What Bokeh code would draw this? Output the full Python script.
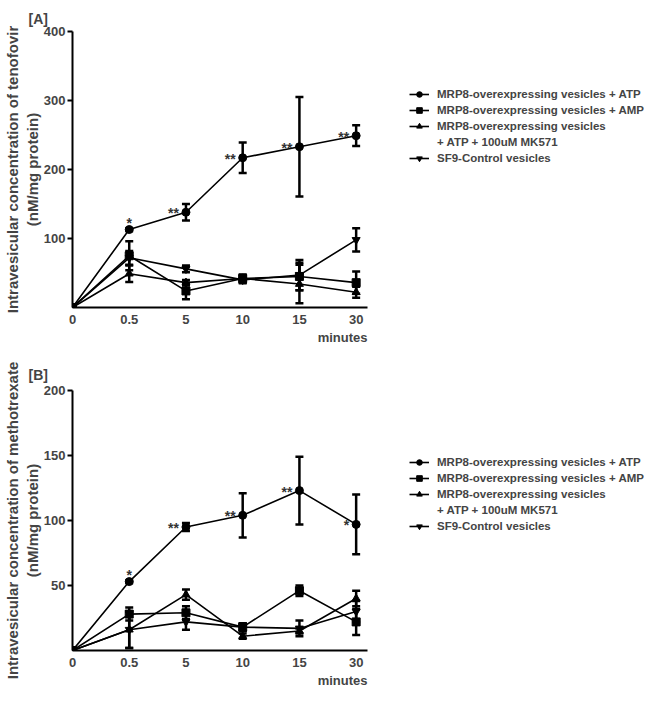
import numpy as np
from bokeh.plotting import figure
from bokeh.layouts import column, row
from bokeh.models import (ColumnDataSource, Whisker, TeeHead, LinearAxis, FixedTicker,
                          Legend, LegendItem, Title, Range1d)
from bokeh.embed import file_html
from bokeh.resources import INLINE

# ---------------- data ----------------
times = ["0", "0.5", "5", "10", "15", "30"]
series_names = ["MRP8-overexpressing vesicles + ATP",
                "MRP8-overexpressing vesicles + AMP",
                "MRP8-overexpressing vesicles",
                "SF9-Control vesicles"]
mk571_label_line2 = "+ ATP + 100uM MK571"
markers = ["circle", "square", "triangle", "inverted_triangle"]

# Panel A: tenofovir
tdf_atp = [0, 113, 138, 217, 233, 249]
tdf_atp_err = [0, 2, 12, 22, 72, 15]
tdf_amp = [0, 75, 24, 42, 45, 36]
tdf_amp_err = [0, 21, 12, 6, 20, 16]
tdf_mk = [0, 49, 36, 42, 34, 22]
tdf_mk_err = [0, 12, 4, 5, 28, 8]
tdf_sf9 = [0, 72, 56, 40, 47, 98]
tdf_sf9_err = [0, 10, 5, 5, 22, 17]
tdf_stars = ["", "*", "**", "**", "**", "**"]
tdf_yticks = [100, 200, 300, 400]

# Panel B: methotrexate
mtx_atp = [0, 53, 95, 104, 123, 97]
mtx_atp_err = [0, 1, 3, 17, 26, 23]
mtx_amp = [0, 28, 29, 18, 46, 22]
mtx_amp_err = [0, 5, 5, 3, 4, 10]
mtx_mk = [0, 16, 43, 11, 15, 40]
mtx_mk_err = [0, 14, 4, 2, 2, 6]
mtx_sf9 = [0, 16, 22, 18, 17, 30]
mtx_sf9_err = [0, 14, 6, 3, 6, 8]
mtx_stars = ["", "*", "**", "**", "**", "*"]
mtx_yticks = [50, 100, 150, 200]

FONT = "Liberation Sans"
PLOT_W = 372
LEG_W = 644 - PLOT_W


def build(tag, ylabel1, ylabel2, yticks, series, errs, stars, height, top, bottom,
          tag_standoff, legend_y):
    x = np.arange(len(times))
    p = figure(width=PLOT_W, height=height, output_backend="svg", toolbar_location=None,
               x_range=Range1d(0, 5.2), y_range=Range1d(0, max(yticks)),
               x_axis_type=None, y_axis_type=None,
               min_border_left=55, min_border_right=5,
               min_border_top=top, min_border_bottom=bottom)
    p.outline_line_color = None

    xaxis = LinearAxis(ticker=FixedTicker(ticks=list(x)),
                       major_label_overrides={int(i): t for i, t in zip(x, times)},
                       axis_line_width=2, major_tick_out=0, major_tick_in=0,
                       minor_tick_out=0, minor_tick_in=0, major_label_standoff=7,
                       major_label_text_font=FONT, major_label_text_font_style="bold",
                       major_label_text_font_size="13px")
    p.add_layout(xaxis, "below")
    yaxis = LinearAxis(ticker=FixedTicker(ticks=yticks),
                       axis_line_width=2, major_tick_out=5, major_tick_in=0,
                       major_tick_line_width=2, minor_tick_out=0, minor_tick_in=0,
                       major_label_standoff=2,
                       major_label_text_font=FONT, major_label_text_font_style="bold",
                       major_label_text_font_size="13px",
                       axis_label=ylabel2, axis_label_standoff=0,
                       axis_label_text_font=FONT, axis_label_text_font_style="bold",
                       axis_label_text_font_size="15px")
    p.add_layout(yaxis, "left")
    lab_axis = LinearAxis(ticker=FixedTicker(ticks=[]), axis_line_color=None,
                          major_tick_out=0, major_tick_in=0, minor_tick_out=0, minor_tick_in=0,
                          major_label_standoff=0,
                          axis_label=ylabel1, axis_label_standoff=0,
                          axis_label_text_font=FONT, axis_label_text_font_style="bold",
                          axis_label_text_font_size="15px")
    p.add_layout(lab_axis, "left")

    p.add_layout(Title(text=tag, align="left", offset=-44, standoff=tag_standoff,
                       text_font=FONT, text_font_style="bold", text_font_size="14px"),
                 "above")
    p.add_layout(Title(text="minutes", align="right", standoff=2, text_font=FONT,
                       text_font_style="bold", text_font_size="13px"), "below")

    # legend lives in its own small figure to the right; its glyphs use the same
    # data but that figure's ranges keep them out of view
    lf = figure(width=LEG_W, height=height, output_backend="svg", toolbar_location=None,
                x_range=Range1d(0, 1), y_range=Range1d(-20, -10),
                x_axis_type=None, y_axis_type=None, min_border=0)
    lf.outline_line_color = None

    items = []
    for k, (name, mk, vals, err) in enumerate(zip(series_names, markers, series, errs)):
        v = np.array(vals, dtype=float)
        e = np.array(err, dtype=float)
        src = ColumnDataSource(dict(x=x, y=v, upper=v + e, lower=v - e))
        p.add_layout(Whisker(source=src, base="x", upper="upper", lower="lower",
                             line_width=2.5, line_color="black",
                             upper_head=TeeHead(size=8, line_width=2.5, line_color="black"),
                             lower_head=TeeHead(size=8, line_width=2.5, line_color="black")))
        p.line("x", "y", source=src, line_width=1.6, line_color="black")
        p.scatter("x", "y", source=src, marker=mk, size=8, fill_color="black",
                  line_color="black")
        lr = lf.line("x", "y", source=src, line_width=1.6, line_color="black")
        sr = lf.scatter("x", "y", source=src, marker=mk, size=8, fill_color="black",
                        line_color="black")
        items.append(LegendItem(label=name, renderers=[lr, sr]))
        if k == 2:
            dummy = lf.scatter("x", "y", source=src, size=1, fill_alpha=0, line_alpha=0)
            items.append(LegendItem(label=mk571_label_line2, renderers=[dummy]))

    atp = series[0]
    s1 = ColumnDataSource(dict(x=list(x[1:2]), y=atp[1:2], t=stars[1:2]))
    p.text("x", "y", text="t", source=s1, text_align="center", text_baseline="alphabetic",
           y_offset=-7, text_font_size="14px", text_font_style="bold", text_color="#333333")
    s2 = ColumnDataSource(dict(x=list(x[2:]), y=atp[2:], t=stars[2:]))
    p.text("x", "y", text="t", source=s2, text_align="right", text_baseline="alphabetic",
           x_offset=-7, y_offset=1, text_font_size="14px", text_font_style="bold",
           text_color="#333333")

    leg = Legend(items=items, location=(37, legend_y), label_text_font=FONT,
                 label_text_font_style="bold", label_text_font_size="11.5px",
                 glyph_width=20, glyph_height=14, label_height=14, label_standoff=8,
                 padding=0, spacing=2, margin=0, border_line_color=None,
                 background_fill_alpha=0)
    lf.add_layout(leg, "center")
    return row(p, lf, spacing=0)


rA = build("[A]", "Intravesicular concentration of tenofovir", "(nM/mg protein)",
           tdf_yticks, [tdf_atp, tdf_amp, tdf_mk, tdf_sf9],
           [tdf_atp_err, tdf_amp_err, tdf_mk_err, tdf_sf9_err],
           tdf_stars, height=347, top=31, bottom=40, tag_standoff=10, legend_y=142)
rB = build("[B]", "Intravesicular concentration of methotrexate", "(nM/mg protein)",
           mtx_yticks, [mtx_atp, mtx_amp, mtx_mk, mtx_sf9],
           [mtx_atp_err, mtx_amp_err, mtx_mk_err, mtx_sf9_err],
           mtx_stars, height=343, top=43, bottom=40, tag_standoff=16, legend_y=117)

layout = column(rA, rB, spacing=0)
open("out.html", "w").write(file_html(layout, INLINE))
